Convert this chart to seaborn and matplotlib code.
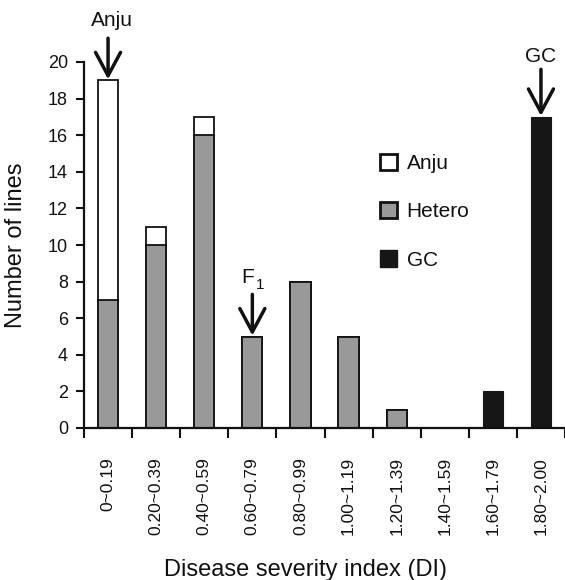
import matplotlib
matplotlib.use("Agg")
import matplotlib.pyplot as plt
import seaborn as sns
import pandas as pd
from matplotlib.patches import Patch

categories = ["0~0.19", "0.20~0.39", "0.40~0.59", "0.60~0.79", "0.80~0.99",
              "1.00~1.19", "1.20~1.39", "1.40~1.59", "1.60~1.79", "1.80~2.00"]
anju = [12, 1, 1, 0, 0, 0, 0, 0, 0, 0]
hetero = [7, 10, 16, 5, 8, 5, 1, 0, 0, 0]
gc = [0, 0, 0, 0, 0, 0, 0, 0, 2, 17]
yticks = list(range(0, 21, 2))

sns.set_theme(style="white")
plt.rcParams['font.family'] = ['Liberation Sans', 'DejaVu Sans']

df = pd.DataFrame({"cat": categories, "anju": anju, "hetero": hetero, "gc": gc})
df["total"] = df["anju"] + df["hetero"]

fig = plt.figure(figsize=(5.65, 5.8), dpi=100)
ax = fig.add_axes([84 / 565, 1 - 428 / 580, 1 - 84 / 565, (428 - 62) / 580])

W = 0.42
ekw = dict(edgecolor="#111111", linewidth=1.3, saturation=1, width=W, order=categories)
sns.barplot(data=df, x="cat", y="total", color="white", ax=ax, **ekw)
sns.barplot(data=df, x="cat", y="hetero", color="#999999", ax=ax, **ekw)
sns.barplot(data=df, x="cat", y="gc", color="#161616", ax=ax, order=categories,
            width=W, saturation=1, edgecolor="#161616", linewidth=0.8)

n = len(categories)
ax.set_xlim(-0.5, n - 0.52)
ax.set_ylim(0, 20)
ax.set_yticks(yticks)
ax.set_yticklabels([str(t) for t in yticks], fontsize=13, color="#111111")
ax.set_xticks([i - 0.5 for i in range(n + 1)])
ax.set_xticklabels([])
ax.set_xticks(list(range(n)), minor=True)
ax.set_xticklabels(categories, minor=True, rotation=90, fontsize=12.5, va="top",
                   color="#111111")
ax.tick_params(axis="x", which="major", direction="out", length=7.5, width=1.5,
               bottom=True, color="#111111")
ax.tick_params(axis="x", which="minor", length=0, pad=21, bottom=True)
ax.tick_params(axis="y", direction="out", length=6, width=1.5, left=True,
               color="#111111", pad=5.5)

for s in ["top", "right"]:
    ax.spines[s].set_visible(False)
for s in ["left", "bottom"]:
    ax.spines[s].set_linewidth(1.6)
    ax.spines[s].set_color("#111111")

ax.set_xlabel("Disease severity index (DI)", fontsize=17, color="#111111")
ax.set_ylabel("Number of lines", fontsize=17, color="#111111")
ax.xaxis.set_label_coords(0.46, -0.357)
ax.yaxis.set_label_coords(-0.118, 0.5)

akw = dict(arrowstyle="->,head_length=1.4,head_width=0.75", lw=2.5, color="#111111",
           shrinkA=0, shrinkB=0)
ax.annotate("", xy=(0, 19.05), xytext=(0, 21.3), annotation_clip=False, arrowprops=akw)
ax.text(0.08, 21.75, "Anju", fontsize=15, ha="center", va="bottom", clip_on=False,
        color="#111111")
ax.annotate("", xy=(3, 5.05), xytext=(3, 7.3), arrowprops=akw)
ax.text(2.9, 7.92, "F", fontsize=15, ha="center", va="baseline", color="#111111")
ax.text(3.17, 7.6, "1", fontsize=11, ha="center", va="baseline", color="#111111")
ax.annotate("", xy=(9, 17.05), xytext=(9, 19.6), annotation_clip=False, arrowprops=akw)
ax.text(9, 19.8, "GC", fontsize=15, ha="center", va="bottom", clip_on=False,
        color="#111111")

handles = [Patch(facecolor="white", edgecolor="#111111", linewidth=2.0),
           Patch(facecolor="#999999", edgecolor="#111111", linewidth=2.0),
           Patch(facecolor="#161616", edgecolor="#161616", linewidth=1.0)]
leg = ax.legend(handles, ["Anju", "Hetero", "GC"], frameon=False, fontsize=15,
                loc="upper left", bbox_to_anchor=((365 - 84) / 481, (428 - 139) / 366),
                handlelength=0.85, handleheight=0.85, handletextpad=0.45,
                labelspacing=1.38, borderpad=0.2)
for t in leg.get_texts():
    t.set_color("#111111")

fig.savefig("out.png", dpi=100)
